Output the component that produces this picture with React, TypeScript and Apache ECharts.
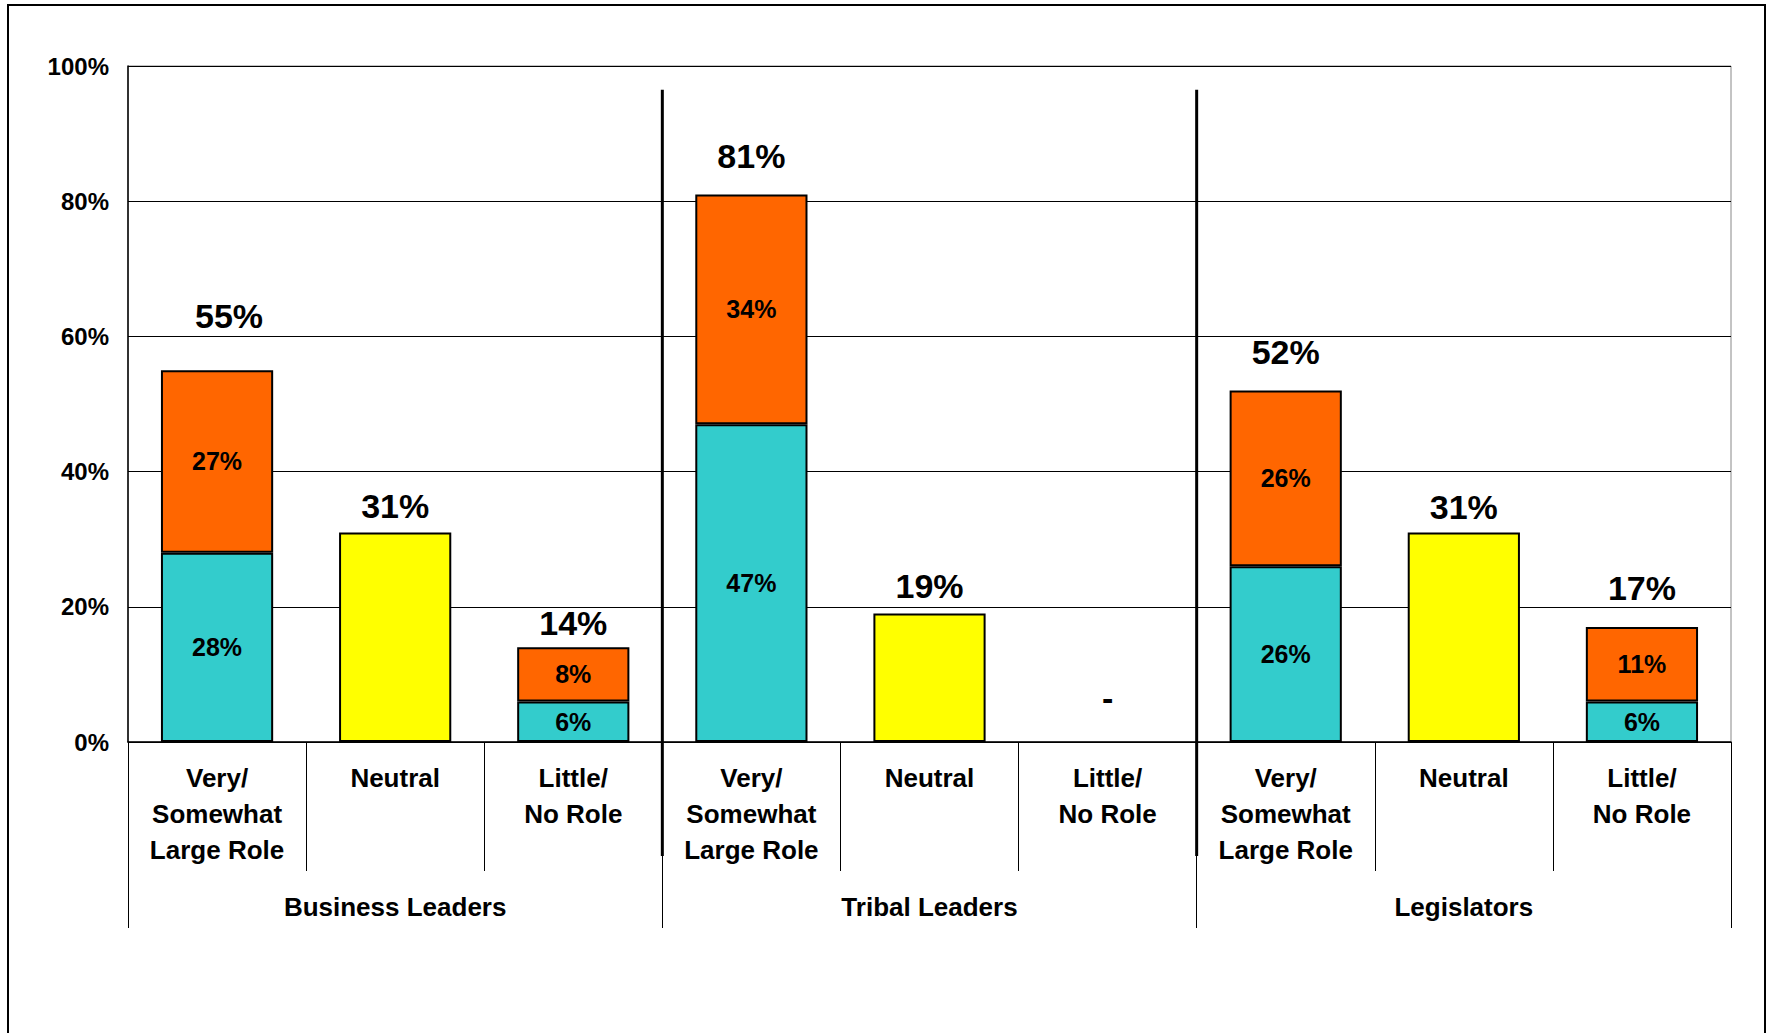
import React, { useEffect, useRef } from 'react';
import * as echarts from 'echarts';

const categories = [
  'Very/\nSomewhat\nLarge Role', 'Neutral', 'Little/\nNo Role',
  'Very/\nSomewhat\nLarge Role', 'Neutral', 'Little/\nNo Role',
  'Very/\nSomewhat\nLarge Role', 'Neutral', 'Little/\nNo Role',
];
const groups = ['Business Leaders', 'Tribal Leaders', 'Legislators'];

// lower (teal) segment, upper (orange) segment, neutral (yellow)
const tealValues = [28, null, 6, 47, null, null, 26, null, 6];
const orangeValues = [27, null, 8, 34, null, null, 26, null, 11];
const neutralValues = [null, 31, null, null, 19, null, null, 31, null];
const totals = [55, 31, 14, 81, 19, 0, 52, 31, 17];

// styling: distance of each total label above its bar, and horizontal nudge
const totalLabelGaps = [37, 9, 7, 21, 11, 27, 21, 8, 22];
const totalLabelShiftX = [12, 0, 0, 0, 0, 0, 0, 0, 0];

const FONT = 'Arial, "Liberation Sans", sans-serif';

export default function App() {
  const ref = useRef<HTMLDivElement>(null);
  useEffect(() => {
    document.body.style.margin = '0';
    if (!ref.current) return;
    const chart = echarts.init(ref.current, undefined, { renderer: 'svg' });
    const border = { color: '#000', width: 2 };
    const innerLabel = {
      show: true,
      position: 'inside',
      formatter: '{c}%',
      fontFamily: FONT,
      fontSize: 25,
      fontWeight: 'bold',
      color: '#000',
    };
    chart.setOption({
      animation: false,
      backgroundColor: '#fff',
      grid: {
        left: 128, top: 66, right: 38, bottom: 291,
        show: true, borderColor: '#888', borderWidth: 1, backgroundColor: 'transparent',
      },
      xAxis: [
        {
          type: 'category',
          data: categories,
          position: 'bottom',
          boundaryGap: true,
          axisLine: { show: true, lineStyle: { color: '#000', width: 1.5 } },
          axisTick: { show: true, length: 129, lineStyle: { color: '#000', width: 1 } },
          axisLabel: {
            interval: 0,
            margin: 18,
            fontFamily: FONT,
            fontSize: 26,
            fontWeight: 'bold',
            lineHeight: 36,
            color: '#000',
          },
        },
        {
          type: 'category',
          data: groups,
          position: 'bottom',
          boundaryGap: true,
          axisLine: { show: false },
          axisTick: { show: true, length: 186, lineStyle: { color: '#000', width: 1 } },
          axisLabel: {
            interval: 0,
            margin: 152,
            fontFamily: FONT,
            fontSize: 26,
            fontWeight: 'bold',
            color: '#000',
          },
        },
      ],
      yAxis: {
        type: 'value',
        min: 0,
        max: 100,
        interval: 20,
        axisLine: { show: true, lineStyle: { color: '#000', width: 1.5 } },
        axisTick: { show: false },
        splitLine: { show: true, lineStyle: { color: '#000', width: 1 } },
        axisLabel: {
          formatter: '{value}%',
          margin: 19,
          fontFamily: FONT,
          fontSize: 24,
          fontWeight: 'bold',
          color: '#000',
        },
      },
      series: [
        {
          name: 'Lower',
          type: 'bar',
          stack: 'a',
          barWidth: '63%',
          data: tealValues,
          itemStyle: { color: '#33CCCC', borderColor: border.color, borderWidth: border.width },
          label: innerLabel,
        },
        {
          name: 'Upper',
          type: 'bar',
          stack: 'a',
          barWidth: '63%',
          data: orangeValues,
          itemStyle: { color: '#FF6600', borderColor: border.color, borderWidth: border.width },
          label: innerLabel,
        },
        {
          name: 'Neutral',
          type: 'bar',
          stack: 'a',
          barWidth: '63%',
          data: neutralValues,
          itemStyle: { color: '#FFFF00', borderColor: border.color, borderWidth: border.width },
        },
        {
          name: 'Total',
          type: 'bar',
          barWidth: '63%',
          barGap: '-100%',
          silent: true,
          z: 5,
          itemStyle: { color: 'rgba(0,0,0,0)' },
          data: totals.map((v, i) => ({
            value: v,
            label: { distance: totalLabelGaps[i], offset: [totalLabelShiftX[i], 0] },
          })),
          label: {
            show: true,
            position: 'top',
            formatter: (p: any) => (p.value === 0 ? '-' : p.value + '%'),
            fontFamily: FONT,
            fontSize: 34,
            fontWeight: 'bold',
            color: '#000',
          },
        },
      ],
    });

    // group separators computed from the axis scales
    const px = (i: number) => chart.convertToPixel({ xAxisIndex: 0 }, i) as number;
    const yTop = chart.convertToPixel({ yAxisIndex: 0 }, 96.5) as number;
    const yBase = chart.convertToPixel({ yAxisIndex: 0 }, 0) as number;
    const seps = [2, 5].map((i) => (px(i) + px(i + 1)) / 2);
    chart.setOption({
      graphic: [
        {
          type: 'rect',
          id: 'frame',
          shape: { x: 8, y: 5, width: 1757, height: 1100 },
          style: { fill: 'none', stroke: '#000', lineWidth: 2 },
          silent: true,
          z: 100,
        },
        ...seps.map((x, k) => ({
          type: 'line',
          id: 'sep' + k,
          shape: { x1: x, y1: yTop, x2: x, y2: yBase + 114 },
          style: { stroke: '#000', lineWidth: 3 },
          silent: true,
          z: 100,
        })),
      ],
    });

    return () => chart.dispose();
  }, []);
  return <div ref={ref} style={{ width: 1769, height: 1033 }} />;
}
